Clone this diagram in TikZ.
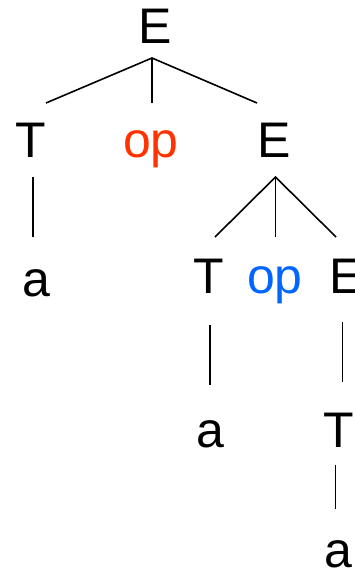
\documentclass[tikz,border=0pt]{standalone}
\usepackage{fontspec}
\setmainfont{Liberation Sans}
\definecolor{opred}{HTML}{FF3300}
\definecolor{opblue}{HTML}{0066FF}
\begin{document}
\begin{tikzpicture}[x=1pt,y=-1pt,
  sym/.style={inner sep=0pt,anchor=base,font=\fontsize{50}{60}\selectfont},
  edge/.style={line width=1.6pt,black}]
\useasboundingbox (0,0) rectangle (354,568);
% level 0
\node[sym] (E0) at (155,43) {E};
% level 1
\node[sym] (T1) at (31,157) {T};
\node[sym,text=opred] (op1) at (151,157) {op};
\node[sym] (E1) at (274,157) {E};
% level 2
\node[sym] (a1) at (36,296) {a};
\node[sym] (T2) at (209,293) {T};
\node[sym,text=opblue] (op2) at (275,293) {op};
\node[sym] (E2) at (346,293) {E};
% level 3
\node[sym] (a2) at (210,447) {a};
\node[sym] (T3) at (339,447) {T};
% level 4
\node[sym] (a3) at (338,567) {a};
% connector ends
\coordinate (E0b) at (152,58);
\coordinate (T1t) at (46,103);
\coordinate (op1t) at (152,103);
\coordinate (E1t) at (257,103);
\coordinate (T1b) at (33,177);
\coordinate (a1t) at (33,237);
\coordinate (E1b) at (275.5,177);
\coordinate (T2t) at (215,237);
\coordinate (op2t) at (275.5,237);
\coordinate (E2t) at (336,237);
\coordinate (T2b) at (210,325);
\coordinate (a2t) at (210,385);
\coordinate (E2b) at (342.5,322);
\coordinate (T3t) at (342.5,382);
\coordinate (T3b) at (335.5,465);
\coordinate (a3t) at (335.5,509);
\draw[edge] (T1t) -- (E0b) -- (E1t);
\draw[edge] (E0b) -- (op1t);
\draw[edge] (T1b) -- (a1t);
\draw[edge] (T2t) -- (E1b) -- (E2t);
\draw[edge] (E1b) -- (op2t);
\draw[edge] (T2b) -- (a2t);
\draw[edge] (E2b) -- (T3t);
\draw[edge] (T3b) -- (a3t);
\end{tikzpicture}
\end{document}
